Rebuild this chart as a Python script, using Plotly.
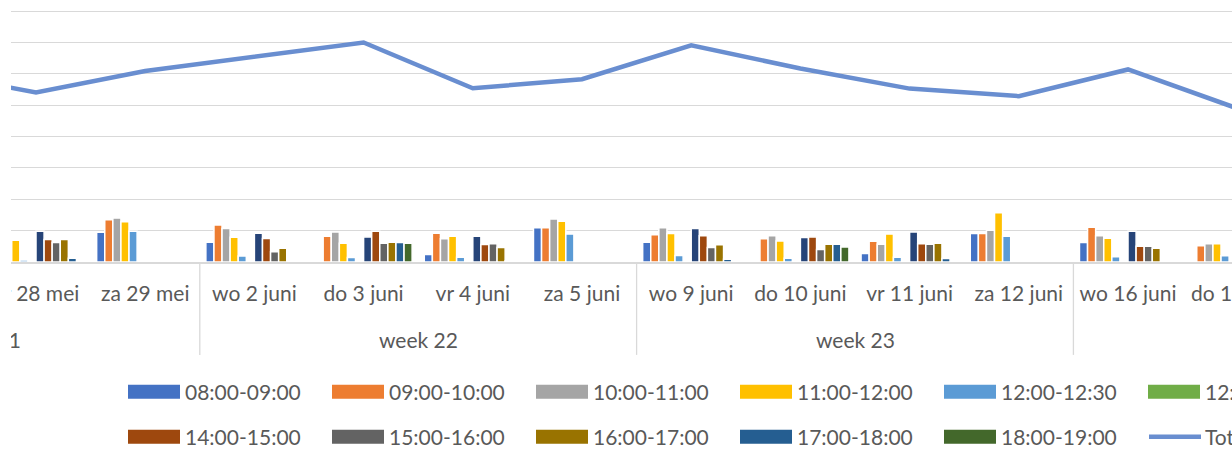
import plotly.graph_objects as go

# ---------------- data ----------------
days = ["wo 26 mei", "do 27 mei", "vr 28 mei", "za 29 mei",
        "wo 2 juni", "do 3 juni", "vr 4 juni", "za 5 juni",
        "wo 9 juni", "do 10 juni", "vr 11 juni", "za 12 juni",
        "wo 16 juni", "do 17 juni", "vr 18 juni", "za 19 juni"]
weeks = ["week 21"] * 4 + ["week 22"] * 4 + ["week 23"] * 4 + ["week 24"] * 4

N = None
h0809 = [N, N, N, 9.5, 6.3, N, 2.4, 10.9, 6.3, N, 2.7, 9.1, 6.2, N, N, N]
h0910 = [N, N, N, 13.5, 11.8, 8.2, 9.2, 10.9, 8.7, 7.4, 6.6, 9.1, 11.1, 5.2, N, N]
h1011 = [N, N, N, 14.0, 10.7, 9.6, 7.4, 13.7, 10.9, 8.4, 5.7, 10.1, 8.4, 5.8, N, N]
h1112 = [N, N, 6.9, 12.8, 7.9, 6.0, 8.2, 13.0, 9.1, 6.7, 8.9, 15.7, 7.6, 5.8, N, N]
h1230 = [N, N, 0.6, 9.8, 1.9, 1.4, 1.5, 8.9, 2.1, 1.2, 1.5, 8.2, 1.7, 2.0, N, N]
h1300 = [N] * 16
h1314 = [N, N, 9.8, N, 9.2, 8.0, 8.2, N, 10.7, 7.8, 9.6, N, 9.8, N, N, N]
h1415 = [N, N, 7.2, N, 7.5, 9.8, 5.6, N, 8.4, 8.0, 5.8, N, 5.0, N, N, N]
h1516 = [N, N, 6.2, N, 3.3, 6.0, 5.8, N, 4.6, 4.0, 5.7, N, 5.0, N, N, N]
h1617 = [N, N, 7.2, N, 4.4, 6.3, 4.6, N, 5.5, 5.7, 6.0, N, 4.4, N, N, N]
h1718 = [N, N, 1.2, N, N, 6.2, 0.4, N, 0.9, 5.7, 1.1, N, N, N, N, N]
h1819 = [N, N, N, N, N, 6.0, N, N, N, 4.8, N, N, N, N, N, N]
totaal = [N, 60.5, 54.1, 60.9, 65.5, 70.0, 55.4, 58.3, 69.1, 61.7, 55.3, 52.9, 61.4, 49.0, N, N]

series_names = ["08:00-09:00", "09:00-10:00", "10:00-11:00", "11:00-12:00",
                "12:00-12:30", "12:30-13:00", "13:00-14:00", "14:00-15:00",
                "15:00-16:00", "16:00-17:00", "17:00-18:00", "18:00-19:00"]
series_vals = [h0809, h0910, h1011, h1112, h1230, h1300,
               h1314, h1415, h1516, h1617, h1718, h1819]
series_colors = ["#4472C4", "#ED7D31", "#A5A5A5", "#FFC000", "#5B9BD5", "#70AD47",
                 "#264478", "#9E480E", "#636363", "#997300", "#255E91", "#43682B"]
line_name = "Totaal"
line_color = "#698ED0"

# ---------------- geometry (pixels) ----------------
FIG_W, FIG_H = 1310, 462
Y_MAX = 81
PL, PR, PB = 11, 1300, 262
PT = PB - Y_MAX * 3.14
X0, X1 = 1.7711, 13.575          # visible category range
FONT = "Lato"
TXT = "#595959"
FS = 21


def xp(px):
    return (px - PL) / (PR - PL)


def yp(py):
    return (PB - py) / (PB - PT)


fig = go.Figure()
for name, vals, col in zip(series_names, series_vals, series_colors):
    fig.add_trace(go.Bar(x=days, y=vals, name=name, marker_color=col,
                         marker_line=dict(color="white", width=1.5)))
fig.add_trace(go.Scatter(x=days, y=totaal, name=line_name, mode="lines",
                         line=dict(color=line_color, width=4.5)))

shapes = []
annotations = []

# week separators and week labels
bounds = [i for i in range(1, len(weeks)) if weeks[i] != weeks[i - 1]]
for b in bounds:
    shapes.append(dict(type="line", xref="x", yref="paper", x0=b - 0.5, x1=b - 0.5,
                       y0=0, y1=yp(355), line=dict(color="#D9D9D9", width=1.3)))
wk_order = []
for w in weeks:
    if w not in wk_order:
        wk_order.append(w)
for w in wk_order:
    idx = [i for i, v in enumerate(weeks) if v == w]
    c = sum(idx) / len(idx)
    frac = (c - X0) / (X1 - X0)
    annotations.append(dict(text=w, xref="paper", yref="paper", x=frac, y=yp(340),
                            xanchor="center", yanchor="middle", showarrow=False,
                            font=dict(family=FONT, size=FS, color=TXT)))

# manual legend (Excel style swatches)
leg_items = list(zip(series_names, series_colors)) + [(line_name, line_color)]
row1 = leg_items[:7]
row2 = leg_items[7:]
for r, (row, cy) in enumerate([(row1, 392), (row2, 437)]):
    for k, (name, col) in enumerate(row):
        sx = 128 + 204 * k
        if name == line_name:
            shapes.append(dict(type="line", xref="paper", yref="paper",
                               x0=xp(sx + 1), x1=xp(sx + 53), y0=yp(cy), y1=yp(cy),
                               line=dict(color=col, width=4.5)))
        else:
            shapes.append(dict(type="rect", xref="paper", yref="paper",
                               x0=xp(sx), x1=xp(sx + 52), y0=yp(cy - 7), y1=yp(cy + 7),
                               fillcolor=col, line=dict(width=0)))
        annotations.append(dict(text=name, xref="paper", yref="paper",
                                x=xp(sx + 55), y=yp(cy), xanchor="left", yanchor="middle",
                                showarrow=False,
                                font=dict(family=FONT, size=FS, color=TXT)))

# white strip on the far left: the chart area starts ~11 px into the picture
annotations.append(dict(text=" ", xref="paper", yref="paper", x=xp(0), y=yp(0),
                        xanchor="left", yanchor="top", showarrow=False,
                        width=9, height=470, bgcolor="white", borderpad=1,
                        borderwidth=0))

fig.update_layout(
    width=FIG_W, height=FIG_H,
    margin=dict(l=PL, r=FIG_W - PR, t=PT, b=FIG_H - PB, autoexpand=False),
    paper_bgcolor="white", plot_bgcolor="white",
    barmode="group", bargap=1.5 / 13.5, bargroupgap=0,
    showlegend=False,
    shapes=shapes, annotations=annotations,
    font=dict(family=FONT, size=FS, color=TXT),
)
fig.update_xaxes(type="category", categoryorder="array", categoryarray=days,
                 range=[X0, X1], automargin=False, showgrid=False, showline=True,
                 linecolor="#D9D9D9", linewidth=1.5, ticks="outside", ticklen=12,
                 tickcolor="rgba(0,0,0,0)", tickangle=0,
                 tickfont=dict(family=FONT, size=FS, color=TXT))
fig.update_yaxes(range=[0, Y_MAX], dtick=10, automargin=False, showgrid=True,
                 gridcolor="#D9D9D9", gridwidth=1.3, zeroline=False,
                 showticklabels=False, ticks="")

fig.write_html("out.html", config={"displayModeBar": False},
               post_script="document.body.style.margin='0';document.body.style.overflow='hidden';")
